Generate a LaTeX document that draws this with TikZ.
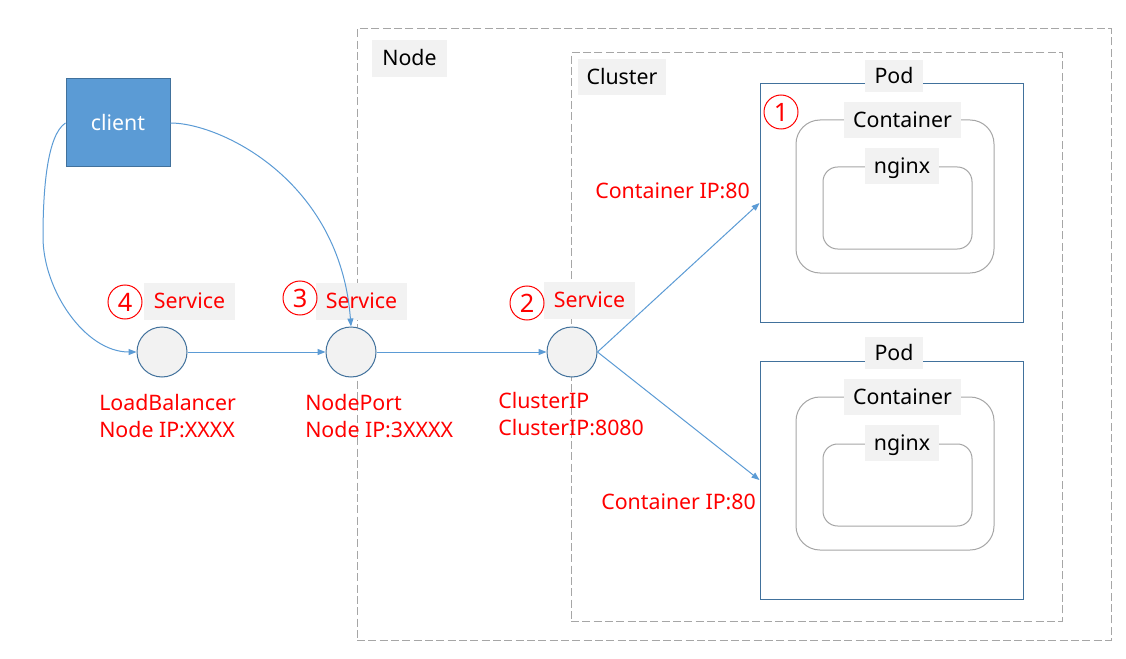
\documentclass[tikz,border=0pt]{standalone}
\usepackage{fontspec}
\setmainfont{Noto Sans}
\usetikzlibrary{arrows.meta,fit}
\definecolor{arrowblue}{HTML}{5B9BD5}
\definecolor{edgeblue}{HTML}{41719C}
\definecolor{lightfill}{HTML}{F2F2F2}
\definecolor{dashgray}{HTML}{A6A6A6}
\begin{document}
\begin{tikzpicture}[x=0.75pt,y=-0.75pt,
  dashbox/.style={draw=dashgray, dash pattern=on 6pt off 2.5pt, line width=0.75pt, inner sep=0pt},
  podbox/.style={draw=edgeblue, line width=0.75pt, inner sep=0pt},
  ctrbox/.style={draw=dashgray, line width=0.75pt, rounded corners=#1, inner sep=0pt},
  tag/.style={fill=lightfill, inner sep=0pt, font=\fontsize{16}{19}\selectfont,
              text height=13pt, text depth=1.8pt},
  svc/.style={circle, draw=edgeblue, fill=lightfill, minimum size=37.5pt, inner sep=0pt, line width=0.75pt},
  numc/.style={circle, draw=red, text=red, minimum size=25.5pt, inner sep=0pt, line width=0.75pt, font=\fontsize{19}{19}\selectfont},
  redlbl/.style={text=red, font=\fontsize{16}{20.25}\selectfont, inner sep=0pt, align=left},
  link/.style={draw=arrowblue, line width=0.75pt, -{Triangle[length=6pt,width=4.5pt]}}
]
\useasboundingbox[fill=white] (0,0) rectangle (1126,659);

% outer dashed boxes
\node[dashbox, fit={(357,29)(1111,640)}] (nodebox) {};
\node[dashbox, fit={(571,53)(1062,621)}] (clusterbox) {};
\node[tag, minimum width=56.25pt, minimum height=27.75pt] (nodetag) at (409.5,58.5) {Node};
\node[tag, minimum width=66pt, minimum height=27pt] (clustertag) at (622,77) {Cluster};

% pods
\foreach \i/\dy in {1/0,2/277}{
  \node[podbox, fit={(760,84+\dy)(1023,322+\dy)}] (pod\i) {};
  \node[ctrbox=18pt, fit={(796,120+\dy)(994,273+\dy)}] (ctr\i) {};
  \node[ctrbox=11pt, fit={(823,167+\dy)(972,249+\dy)}] (ngx\i) {};
  \node[tag, minimum width=43.5pt, minimum height=24pt] (podtag\i) at (894,76+\dy) {Pod};
  \node[tag, minimum width=87.75pt, minimum height=27pt] (ctrtag\i) at (902.5,120+\dy) {Container};
  \node[tag, minimum width=55.5pt, minimum height=27pt] (ngxtag\i) at (902,166+\dy) {nginx};
}
\node[numc] (n1) at (781,112) {1};

% client
\node[fill=arrowblue, draw=edgeblue, line width=0.75pt, inner sep=0pt, text=white,
      font=\fontsize{16}{19}\selectfont, text height=13pt, text depth=1.8pt,
      minimum width=78pt, minimum height=66pt] (client) at (118,123) {client};

% services
\node[svc] (svcLB) at (162,352) {};
\node[svc] (svcNP) at (351,352) {};
\node[svc] (svcCI) at (572,352) {};

\node[tag, text=red, minimum width=68.25pt, minimum height=27.75pt] (tagLB) at (189.5,301.5) {Service};
\node[tag, text=red, minimum width=68.25pt, minimum height=27.75pt] (tagNP) at (361.5,301.5) {Service};
\node[tag, text=red, minimum width=68.25pt, minimum height=27.75pt] (tagCI) at (589.5,300.5) {Service};

\node[numc] (n4) at (125,302) {4};
\node[numc] (n3) at (300,298) {3};
\node[numc] (n2) at (527,303) {2};

% labels
\node[redlbl, anchor=north west] (lblLB) at (99,394) {LoadBalancer\\Node IP:XXXX};
\node[redlbl, anchor=north west] (lblNP) at (305,394) {NodePort\\Node IP:3XXXX};
\node[redlbl, anchor=north west] (lblCI) at (498,392) {ClusterIP\\ClusterIP:8080};
\node[redlbl, anchor=west] (ip1) at (595,191) {Container IP:80};
\node[redlbl, anchor=west] (ip2) at (601,502) {Container IP:80};

% connectors
\draw[link] (svcLB) -- (svcNP);
\draw[link] (svcNP) -- (svcCI);
\draw[link] (svcCI.east) -- (pod1.west);
\draw[link] (svcCI.east) -- (pod2.west);
\draw[link] (client.west) .. controls (47,135) and (43,190) .. (43,237)
                          .. controls (43,290) and (85,352) .. (svcLB.west);
\draw[link] (client.east) .. controls (220,123) and (340,180) .. (svcNP.north);
\end{tikzpicture}
\end{document}
